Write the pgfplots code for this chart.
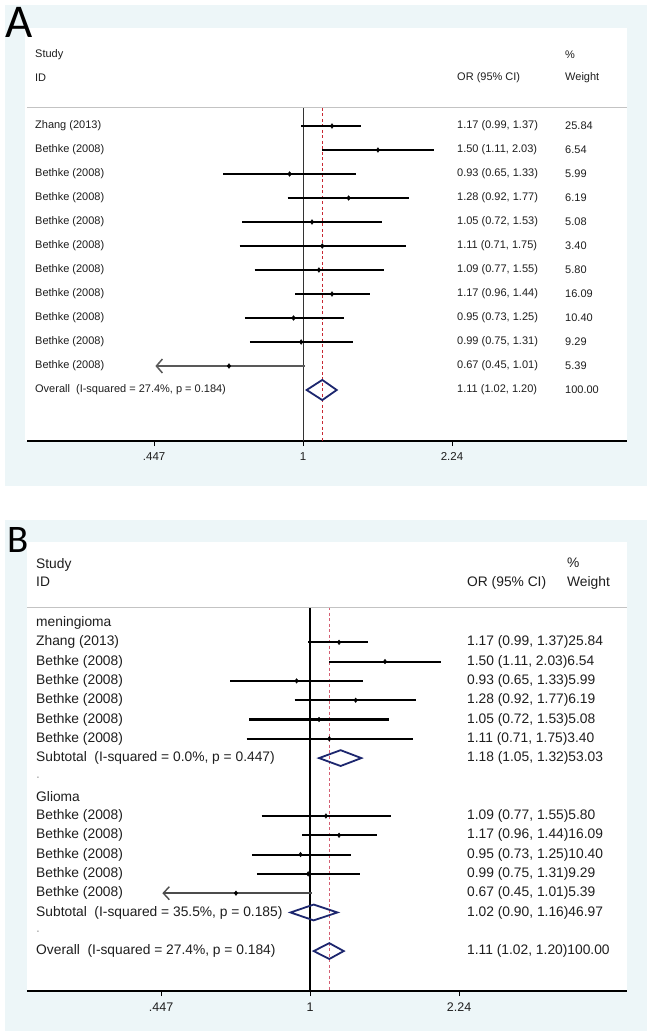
\documentclass[border=0pt]{standalone}
\usepackage{fontspec}
\setmainfont{Liberation Sans}
\newfontfamily\letterfont{Carlito}
\usepackage{pgfplots}
\pgfplotsset{compat=1.18}
\usetikzlibrary{arrows.meta}

\definecolor{pale}{RGB}{237,246,248}
\definecolor{navyd}{RGB}{28,38,110}
\definecolor{redd}{RGB}{200,40,50}
\definecolor{pinkd}{RGB}{212,95,115}
\definecolor{txt}{RGB}{30,30,30}
\definecolor{sepc}{RGB}{195,195,195}

\tikzset{
  lblA/.style={anchor=west, inner sep=0pt, text=txt, font=\fontsize{11}{13}\selectfont},
  lblB/.style={anchor=west, inner sep=0pt, text=txt, font=\fontsize{13.8}{16}\selectfont},
}

\begin{document}
\begin{tikzpicture}[x=1pt,y=1pt]
\path (0,0) rectangle (650,-1031);
\fill[pale] (5,-5) rectangle (647,-486);
\fill[white] (25,-28) rectangle (627,-441);
\fill[pale] (5,-520) rectangle (647,-1031);
\fill[white] (27,-542) rectangle (627,-991);

% ---------------- Panel A ----------------
\begin{axis}[
  at={(27pt,-441pt)}, anchor=south west,
  scale only axis, width=600pt, height=413pt,
  xmode=log, xmin=0.2246, xmax=5.773,
  ymin=-1.125, ymax=16.083,
  axis x line=bottom, axis y line=none,
  axis line style={-, line width=1.3pt, black},
  xtick={0.447,1,2.24},
  xticklabels={{\fontsize{11.5}{13}\selectfont .447},{\fontsize{11.5}{13}\selectfont 1},{\fontsize{11.5}{13}\selectfont 2.24}},
  xminorticks=false,
  tick align=outside, major tick length=5pt,
  xtick style={line width=1pt, black},
  xticklabel style={text=txt, yshift=-3pt},
  /pgf/number format/assume math mode=true,
  clip=false,
]
% reference lines
\addplot[line width=0.9pt, black!80] coordinates {(1,12.75) (1,-1.125)};
\addplot[line width=0.9pt, redd, dash pattern=on 3pt off 2.5pt] coordinates {(1.11,12.75) (1.11,-1.125)};
\draw[sepc, line width=1pt] (axis cs:0.2246,12.75) -- (axis cs:5.773,12.75);
% confidence intervals
\addplot[line width=2.4pt, black, unbounded coords=jump] coordinates {
 (0.99,12) (1.37,12) (nan,nan)
 (1.11,11) (2.03,11) (nan,nan)
 (0.65,10) (1.33,10) (nan,nan)
 (0.92,9) (1.77,9) (nan,nan)
 (0.72,8) (1.53,8) (nan,nan)
 (0.71,7) (1.75,7) (nan,nan)
 (0.77,6) (1.55,6) (nan,nan)
 (0.96,5) (1.44,5) (nan,nan)
 (0.73,4) (1.25,4) (nan,nan)
 (0.75,3) (1.31,3)
};
\addplot[line width=2.4pt, black!65, -{Straight Barb[length=6pt,width=14pt,line width=1.5pt]}] coordinates {(1.01,2) (0.45,2)};
\addplot[only marks, mark=diamond*, mark size=2.4pt, black] coordinates {
 (1.17,12) (1.50,11) (0.93,10) (1.28,9) (1.05,8) (1.11,7) (1.09,6) (1.17,5) (0.95,4) (0.99,3) (0.67,2)
};
% overall diamond
\addplot[navyd, line width=1.8pt, line join=miter] coordinates {(1.02,1) (1.11,1.42) (1.20,1) (1.11,0.58) (1.02,1) (1.11,1.42)};
% header
\node[lblA] at (axis cs:0.2345,14.958) {Study};
\node[lblA] at (axis cs:0.2345,14) {ID};
\node[lblA] at (axis cs:2.301,14) {OR (95\% CI)};
\node[lblA] at (axis cs:4.128,14.958) {\%};
\node[lblA] at (axis cs:4.128,14) {Weight};
% study names
\node[lblA] at (axis cs:0.2345,12) {Zhang (2013)};
\node[lblA] at (axis cs:0.2345,11) {Bethke (2008)};
\node[lblA] at (axis cs:0.2345,10) {Bethke (2008)};
\node[lblA] at (axis cs:0.2345,9) {Bethke (2008)};
\node[lblA] at (axis cs:0.2345,8) {Bethke (2008)};
\node[lblA] at (axis cs:0.2345,7) {Bethke (2008)};
\node[lblA] at (axis cs:0.2345,6) {Bethke (2008)};
\node[lblA] at (axis cs:0.2345,5) {Bethke (2008)};
\node[lblA] at (axis cs:0.2345,4) {Bethke (2008)};
\node[lblA] at (axis cs:0.2345,3) {Bethke (2008)};
\node[lblA] at (axis cs:0.2345,2) {Bethke (2008)};
\node[lblA] at (axis cs:0.2345,1) {Overall\ \ (I-squared = 27.4\%, p = 0.184)};
% OR column
\node[lblA] at (axis cs:2.301,12) {1.17 (0.99, 1.37)};
\node[lblA] at (axis cs:2.301,11) {1.50 (1.11, 2.03)};
\node[lblA] at (axis cs:2.301,10) {0.93 (0.65, 1.33)};
\node[lblA] at (axis cs:2.301,9) {1.28 (0.92, 1.77)};
\node[lblA] at (axis cs:2.301,8) {1.05 (0.72, 1.53)};
\node[lblA] at (axis cs:2.301,7) {1.11 (0.71, 1.75)};
\node[lblA] at (axis cs:2.301,6) {1.09 (0.77, 1.55)};
\node[lblA] at (axis cs:2.301,5) {1.17 (0.96, 1.44)};
\node[lblA] at (axis cs:2.301,4) {0.95 (0.73, 1.25)};
\node[lblA] at (axis cs:2.301,3) {0.99 (0.75, 1.31)};
\node[lblA] at (axis cs:2.301,2) {0.67 (0.45, 1.01)};
\node[lblA] at (axis cs:2.301,1) {1.11 (1.02, 1.20)};
% weight column
\node[lblA] at (axis cs:4.128,12) {25.84};
\node[lblA] at (axis cs:4.128,11) {6.54};
\node[lblA] at (axis cs:4.128,10) {5.99};
\node[lblA] at (axis cs:4.128,9) {6.19};
\node[lblA] at (axis cs:4.128,8) {5.08};
\node[lblA] at (axis cs:4.128,7) {3.40};
\node[lblA] at (axis cs:4.128,6) {5.80};
\node[lblA] at (axis cs:4.128,5) {16.09};
\node[lblA] at (axis cs:4.128,4) {10.40};
\node[lblA] at (axis cs:4.128,3) {9.29};
\node[lblA] at (axis cs:4.128,2) {5.39};
\node[lblA] at (axis cs:4.128,1) {100.00};
\end{axis}

% ---------------- Panel B ----------------
\begin{axis}[
  at={(27pt,-991pt)}, anchor=south west,
  scale only axis, width=600pt, height=449pt,
  xmode=log, xmin=0.2164, xmax=5.553,
  ymin=-1.07, ymax=22.197,
  axis x line=bottom, axis y line=none,
  axis line style={-, line width=1.3pt, black},
  xtick={0.447,1,2.24},
  xticklabels={{\fontsize{12.5}{14}\selectfont .447},{\fontsize{12.5}{14}\selectfont 1},{\fontsize{12.5}{14}\selectfont 2.24}},
  xminorticks=false,
  tick align=outside, major tick length=5pt,
  xtick style={line width=1pt, black},
  xticklabel style={text=txt, yshift=-3pt},
  /pgf/number format/assume math mode=true,
  clip=false,
]
\addplot[line width=1.1pt, black] coordinates {(1,18.829) (1,-1.07)};
\addplot[line width=1.2pt, pinkd, dash pattern=on 3pt off 2.5pt] coordinates {(1.11,18.829) (1.11,-1.07)};
\draw[sepc, line width=1pt] (axis cs:0.2164,18.829) -- (axis cs:5.553,18.829);
\addplot[line width=2.1pt, black, unbounded coords=jump] coordinates {
 (0.99,17) (1.37,17) (nan,nan)
 (1.11,16) (2.03,16) (nan,nan)
 (0.65,15) (1.33,15) (nan,nan)
 (0.92,14) (1.77,14) (nan,nan)
 (0.72,13) (1.53,13) (nan,nan)
 (0.71,12) (1.75,12) (nan,nan)
 (0.77,8) (1.55,8) (nan,nan)
 (0.96,7) (1.44,7) (nan,nan)
 (0.73,6) (1.25,6) (nan,nan)
 (0.75,5) (1.31,5)
};
\addplot[line width=2.1pt, black!70, -{Straight Barb[length=6pt,width=13pt,line width=1.4pt]}] coordinates {(1.01,4) (0.45,4)};
\addplot[only marks, mark=diamond*, mark size=2.3pt, black] coordinates {
 (1.17,17) (1.50,16) (0.93,15) (1.28,14) (1.05,13) (1.11,12) (1.09,8) (1.17,7) (0.95,6) (0.99,5) (0.67,4)
};
\addplot[navyd, line width=1.8pt, line join=miter] coordinates {(1.05,11) (1.18,11.41) (1.32,11) (1.18,10.59) (1.05,11) (1.18,11.41)};
\addplot[navyd, line width=1.8pt, line join=miter] coordinates {(0.90,3) (1.02,3.41) (1.16,3) (1.02,2.59) (0.90,3) (1.02,3.41)};
\addplot[navyd, line width=1.8pt, line join=miter] coordinates {(1.02,1) (1.11,1.41) (1.20,1) (1.11,0.59) (1.02,1) (1.11,1.41)};
% header
\node[lblB] at (axis cs:0.2272,21.005) {Study};
\node[lblB] at (axis cs:0.2272,20.124) {ID};
\node[lblB] at (axis cs:2.3375,20.07) {OR (95\% CI)};
\node[lblB] at (axis cs:4.0145,21.1) {\%};
\node[lblB] at (axis cs:4.0145,20.07) {Weight};
% names
\node[lblB] at (axis cs:0.2272,18) {meningioma};
\node[lblB] at (axis cs:0.2272,17) {Zhang (2013)};
\node[lblB] at (axis cs:0.2272,16) {Bethke (2008)};
\node[lblB] at (axis cs:0.2272,15) {Bethke (2008)};
\node[lblB] at (axis cs:0.2272,14) {Bethke (2008)};
\node[lblB] at (axis cs:0.2272,13) {Bethke (2008)};
\node[lblB] at (axis cs:0.2272,12) {Bethke (2008)};
\node[lblB] at (axis cs:0.2272,11) {Subtotal\ \ (I-squared = 0.0\%, p = 0.447)};
\node[lblB, text=black!35] at (axis cs:0.2272,10) {.};
\node[lblB] at (axis cs:0.2272,9) {Glioma};
\node[lblB] at (axis cs:0.2272,8) {Bethke (2008)};
\node[lblB] at (axis cs:0.2272,7) {Bethke (2008)};
\node[lblB] at (axis cs:0.2272,6) {Bethke (2008)};
\node[lblB] at (axis cs:0.2272,5) {Bethke (2008)};
\node[lblB] at (axis cs:0.2272,4) {Bethke (2008)};
\node[lblB] at (axis cs:0.2272,3) {Subtotal\ \ (I-squared = 35.5\%, p = 0.185)};
\node[lblB, text=black!35] at (axis cs:0.2272,2) {.};
\node[lblB] at (axis cs:0.2272,1) {Overall\ \ (I-squared = 27.4\%, p = 0.184)};
% OR + weight
\node[lblB] at (axis cs:2.3375,17) {1.17 (0.99, 1.37)25.84};
\node[lblB] at (axis cs:2.3375,16) {1.50 (1.11, 2.03)6.54};
\node[lblB] at (axis cs:2.3375,15) {0.93 (0.65, 1.33)5.99};
\node[lblB] at (axis cs:2.3375,14) {1.28 (0.92, 1.77)6.19};
\node[lblB] at (axis cs:2.3375,13) {1.05 (0.72, 1.53)5.08};
\node[lblB] at (axis cs:2.3375,12) {1.11 (0.71, 1.75)3.40};
\node[lblB] at (axis cs:2.3375,11) {1.18 (1.05, 1.32)53.03};
\node[lblB] at (axis cs:2.3375,8) {1.09 (0.77, 1.55)5.80};
\node[lblB] at (axis cs:2.3375,7) {1.17 (0.96, 1.44)16.09};
\node[lblB] at (axis cs:2.3375,6) {0.95 (0.73, 1.25)10.40};
\node[lblB] at (axis cs:2.3375,5) {0.99 (0.75, 1.31)9.29};
\node[lblB] at (axis cs:2.3375,4) {0.67 (0.45, 1.01)5.39};
\node[lblB] at (axis cs:2.3375,3) {1.02 (0.90, 1.16)46.97};
\node[lblB] at (axis cs:2.3375,1) {1.11 (1.02, 1.20)100.00};
\end{axis}

% panel letters
\node[anchor=base west, inner sep=0pt, font=\letterfont\fontsize{47}{47}\selectfont] at (5,-37) {A};
\node[anchor=base west, inner sep=0pt, font=\letterfont\fontsize{39}{39}\selectfont] at (7,-552) {B};
\end{tikzpicture}
\end{document}
